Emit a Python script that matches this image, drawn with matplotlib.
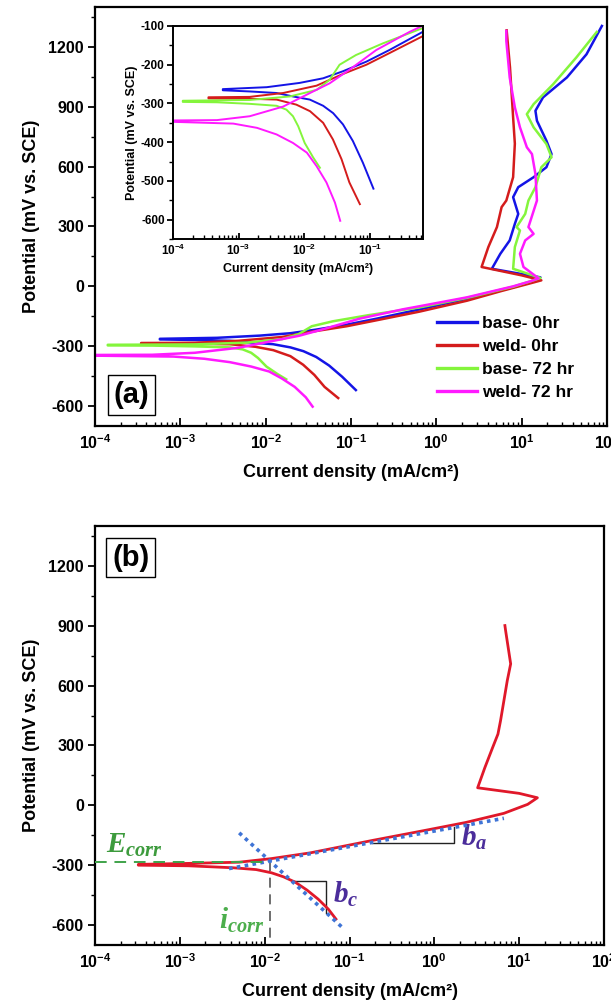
import matplotlib
matplotlib.use("Agg")
import matplotlib.pyplot as plt
from matplotlib.ticker import LogLocator, MultipleLocator, NullFormatter, FixedLocator, FixedFormatter

plt.rcParams['font.family'] = ['Liberation Sans', 'DejaVu Sans']
plt.rcParams['font.weight'] = 'bold'
plt.rcParams['axes.unicode_minus'] = False
plt.rcParams['mathtext.fontset'] = 'custom'
plt.rcParams['mathtext.rm'] = 'Liberation Sans:bold'
plt.rcParams['mathtext.bf'] = 'Liberation Sans:bold'
plt.rcParams['mathtext.it'] = 'Liberation Serif:italic'

# ---------------- data (current density mA/cm2, potential mV vs SCE) ----------------
base0_i = [0.114, 0.0787, 0.0554, 0.0391, 0.0277, 0.0195, 0.0122, 0.0068, 0.0038, 0.00148, 0.000575,
           0.000575, 0.00269, 0.00851, 0.0195, 0.0389, 0.0891, 0.2, 0.631,
           2.29, 7.94, 12.6, 16.6, 4.47, 5.62, 7.24, 8.32, 9.12, 7.94, 9.12, 13.8,
           19.5, 22.4, 19.5, 15.1, 14.5, 17.8, 33.9, 57.5, 87.1]
base0_E = [-520, -453, -397, -354, -325, -306, -290, -282, -273, -269, -266,
           -263, -258, -247, -235, -217, -192, -162, -116,
           -62, -5, 22, 45, 88, 163, 230, 313, 363, 447, 497, 547,
           597, 663, 730, 830, 880, 947, 1047, 1163, 1305]

weld0_i = [0.0708, 0.049, 0.0372, 0.0275, 0.0195, 0.0123, 0.00759, 0.0038, 0.00148, 0.000347,
           0.000347, 0.00148, 0.00479, 0.0155, 0.0389, 0.0891, 0.2, 0.631,
           2.29, 5.62, 12.6, 17.0, 10.0, 3.39, 4.07, 5.13, 5.82, 6.61, 7.94,
           8.32, 7.94, 7.3, 6.67]
weld0_E = [-560, -504, -444, -393, -350, -320, -303, -290, -288, -287,
           -284, -283, -273, -254, -224, -200, -170, -127,
           -72, -25, 15, 30, 55, 97, 197, 297, 397, 430, 547,
           715, 847, 1097, 1283]

base72_i = [0.0174, 0.0138, 0.0102, 0.00813, 0.00676, 0.00537, 0.0038, 0.00148, 0.000468, 0.000141,
            0.000141, 0.00148, 0.00603, 0.0155, 0.0245, 0.0347, 0.0617, 0.158, 0.631,
            2.29, 7.94, 12.6, 16.6, 7.94, 8.32, 9.55, 8.71, 11.0, 12.0, 14.5,
            17.0, 22.4, 19.5, 13.8, 11.5, 13.8, 23.4, 43.7, 75.9]
base72_E = [-466, -440, -402, -359, -333, -316, -306, -301, -297, -296,
            -293, -291, -282, -265, -239, -200, -175, -145, -106,
            -58, -2, 25, 42, 88, 197, 280, 297, 363, 430, 497,
            597, 647, 713, 797, 863, 913, 1013, 1147, 1275]

weld72_i = [0.0355, 0.0295, 0.0219, 0.0155, 0.011, 0.00676, 0.0038, 0.00191, 0.000832, 0.0000794,
            0.0000794, 0.000468, 0.00148, 0.00479, 0.0123, 0.0245, 0.049, 0.126, 0.407,
            0.631, 2.29, 7.94, 12.6, 15.8, 10.5, 9.55, 11.0, 13.8, 12.0, 15.1, 14.5,
            13.2, 11.5, 9.55, 8.32, 7.24, 6.61, 6.61]
weld72_E = [-603, -556, -504, -462, -427, -402, -380, -363, -352, -347,
            -344, -343, -333, -308, -273, -248, -213, -162, -115,
            -100, -55, 0, 25, 40, 97, 163, 230, 263, 297, 430, 563,
            663, 697, 797, 897, 1047, 1230, 1280]

series_labels = ['base- 0hr', 'weld- 0hr', 'base- 72 hr', 'weld- 72 hr']
series_colors = ['#1414e6', '#d41c1c', '#84f53c', '#ff1aff']

# panel (b): weld curve with Tafel extrapolation
weldb_i = [0.0692, 0.0562, 0.0427, 0.0316, 0.0229, 0.0166, 0.012, 0.00794, 0.00427, 0.00126, 0.000324,
           0.000324, 0.00126, 0.00501, 0.012, 0.0347, 0.186, 0.813, 2.34, 6.61,
           12.6, 16.4, 10.0, 3.24, 3.94, 4.86, 5.62, 6.03, 7.24, 7.94, 6.92, 6.79]
weldb_E = [-570, -520, -470, -425, -385, -358, -338, -322, -313, -303, -300,
           -296, -291, -285, -267, -238, -176, -124, -86, -40,
           5, 38, 60, 88, 189, 289, 357, 424, 625, 709, 876, 901]

tafel_a_i = [0.0038, 6.61]
tafel_a_E = [-317, -65]
tafel_c_i = [0.00501, 0.0813]
tafel_c_E = [-138, -610]
ba_tri_i = [0.186, 1.70, 1.70]
ba_tri_E = [-188, -188, -110]
bc_tri_i = [0.0214, 0.0525, 0.0525]
bc_tri_E = [-380, -380, -540]
Ecorr_val = -283
icorr_val = 0.0115

xtick_vals = [1e-4, 1e-3, 1e-2, 1e-1, 1e0, 1e1, 1e2]
xtick_labels = [r'$\mathbf{10^{-4}}$', r'$\mathbf{10^{-3}}$', r'$\mathbf{10^{-2}}$',
                r'$\mathbf{10^{-1}}$', r'$\mathbf{10^{0}}$', r'$\mathbf{10^{1}}$',
                r'$\mathbf{10^{2}}$']
ytick_vals = [-600, -300, 0, 300, 600, 900, 1200]
inset_xtick_vals = [1e-4, 1e-3, 1e-2, 1e-1]
inset_xtick_labels = xtick_labels[:4]
inset_ytick_vals = [-600, -500, -400, -300, -200, -100]

# ---------------- figure ----------------
W, H = 611, 1006
fig = plt.figure(figsize=(W / 100, H / 100), dpi=100)


def axrect(l, r, t, b):
    return [l / W, 1 - b / H, (r - l) / W, (b - t) / H]


def style_axes(ax, xt, xl, yt, fs, lw=1.6, ymin_step=150):
    ax.set_xscale('log')
    for s in ax.spines.values():
        s.set_linewidth(lw)
    ax.xaxis.set_major_locator(FixedLocator(xt))
    ax.xaxis.set_major_formatter(FixedFormatter(xl))
    ax.xaxis.set_minor_locator(LogLocator(base=10, subs=range(2, 10), numticks=20))
    ax.xaxis.set_minor_formatter(NullFormatter())
    ax.yaxis.set_major_locator(FixedLocator(yt))
    ax.yaxis.set_minor_locator(MultipleLocator(ymin_step))
    ax.tick_params(axis='x', which='major', direction='in', length=6, width=1.3,
                   labelsize=fs, pad=5)
    ax.tick_params(axis='x', which='minor', direction='in', length=3, width=1.0)
    ax.tick_params(axis='y', which='major', direction='out', length=5, width=1.3,
                   labelsize=fs, pad=3)
    ax.tick_params(axis='y', which='minor', direction='out', length=3, width=1.0)
    for lab in ax.get_yticklabels():
        lab.set_fontweight('bold')


curves = [(base0_i, base0_E), (weld0_i, weld0_E), (base72_i, base72_E), (weld72_i, weld72_E)]

# ---- panel (a)
ax1 = fig.add_axes(axrect(95, 607, 7, 426))
for (ci, cE), col, lab in zip(curves, series_colors, series_labels):
    ax1.plot(ci, cE, color=col, lw=1.8, label=lab, solid_joinstyle='round')
ax1.set_xlim(1e-4, 1e2)
ax1.set_ylim(-700, 1400)
style_axes(ax1, xtick_vals, xtick_labels, ytick_vals, 11.5)
ax1.set_xlabel('Current density (mA/cm²)', fontsize=13, fontweight='bold', labelpad=9)
ax1.set_ylabel('Potential (mV vs. SCE)', fontsize=13, fontweight='bold', labelpad=6)
leg = ax1.legend(loc='upper left', bbox_to_anchor=(0.668, 0.262), frameon=False,
                 fontsize=12.5, handlelength=2.3, handletextpad=0.3, labelspacing=0.45,
                 borderpad=0, borderaxespad=0)
for t in leg.get_texts():
    t.set_fontweight('bold')
for h in leg.get_lines():
    h.set_linewidth(2.4)
ax1.text(0.036, 0.04, '(a)', transform=ax1.transAxes, fontsize=21, fontweight='bold',
         ha='left', va='bottom',
         bbox=dict(boxstyle='square,pad=0.2', fc='white', ec='black', lw=1.0))

# ---- inset
axin = fig.add_axes(axrect(173, 423, 26, 239))
for (ci, cE), col in zip(curves, series_colors):
    axin.plot(ci, cE, color=col, lw=1.4, solid_joinstyle='round')
axin.set_xlim(1e-4, 0.65)
axin.set_ylim(-650, -100)
style_axes(axin, inset_xtick_vals, inset_xtick_labels, inset_ytick_vals, 8.5, lw=1.4,
           ymin_step=50)
axin.tick_params(axis='x', which='major', pad=3, length=4)
axin.tick_params(axis='y', which='major', length=4, pad=2)
axin.set_xlabel('Current density (mA/cm²)', fontsize=9, fontweight='bold', labelpad=3)
axin.set_ylabel('Potential (mV vs. SCE)', fontsize=9, fontweight='bold', labelpad=2)

# ---- panel (b)
ax2 = fig.add_axes(axrect(95, 604, 526, 945))
ax2.plot(weldb_i, weldb_E, color='#e0182a', lw=2.0, zorder=3, solid_joinstyle='round')
ax2.plot(tafel_a_i, tafel_a_E, color='#3f74d6', lw=2.6, ls=(0, (1, 1.2)), zorder=4)
ax2.plot(tafel_c_i, tafel_c_E, color='#3f74d6', lw=2.6, ls=(0, (1, 1.2)), zorder=4)
ax2.plot(ba_tri_i, ba_tri_E, color='#222222', lw=1.0, zorder=2)
ax2.plot(bc_tri_i, bc_tri_E, color='#222222', lw=1.0, zorder=2)
ax2.plot([1e-4, icorr_val], [Ecorr_val, Ecorr_val], color='#3fa34a', lw=1.4,
         ls=(0, (6, 4)), zorder=5)
ax2.plot([icorr_val, icorr_val], [-280, -700], color='#555555', lw=1.2,
         ls=(0, (6, 4)), zorder=2)
ax2.set_xlim(1e-4, 1e2)
ax2.set_ylim(-700, 1400)
style_axes(ax2, xtick_vals, xtick_labels, ytick_vals, 11.5)
ax2.set_xlabel('Current density (mA/cm²)', fontsize=13, fontweight='bold', labelpad=9)
ax2.set_ylabel('Potential (mV vs. SCE)', fontsize=13, fontweight='bold', labelpad=6)
ax2.text(0.034, 0.958, '(b)', transform=ax2.transAxes, fontsize=21, fontweight='bold',
         ha='left', va='top',
         bbox=dict(boxstyle='square,pad=0.2', fc='white', ec='black', lw=1.0))
ax2.text(1.35e-4, -240, r'$\mathit{E}_{\mathit{corr}}$', color='#3d9b3d', fontsize=21,
         ha='left', va='baseline')
ax2.text(2.09, -204, r'$\mathit{b}_{\mathit{a}}$', color='#4b2d9b', fontsize=21,
         ha='left', va='baseline')
ax2.text(0.0646, -491, r'$\mathit{b}_{\mathit{c}}$', color='#4b2d9b', fontsize=21,
         ha='left', va='baseline')
ax2.text(0.00288, -617, r'$\mathit{i}_{\mathit{corr}}$', color='#4cae4c', fontsize=21,
         ha='left', va='baseline')

fig.savefig('out.png', dpi=100, facecolor='white')
